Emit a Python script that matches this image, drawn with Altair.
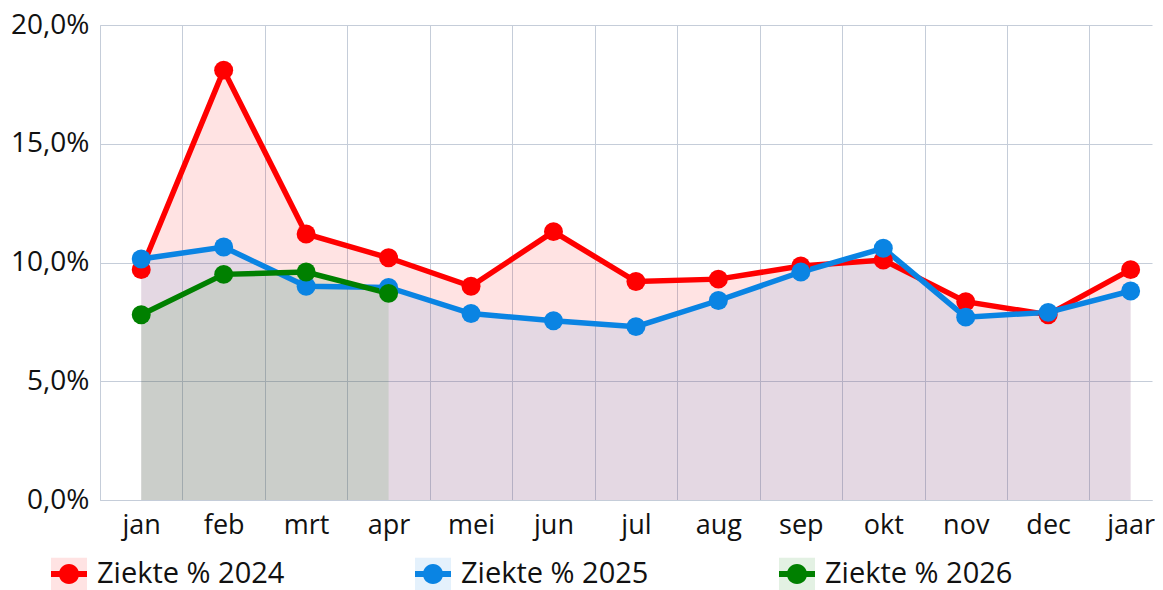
import json
import altair as alt
import pandas as pd

# ---------------- data ----------------
months = ["jan", "feb", "mrt", "apr", "mei", "jun", "jul", "aug", "sep", "okt", "nov", "dec", "jaar"]
series_names = ["Ziekte % 2024", "Ziekte % 2025", "Ziekte % 2026"]
ziekte_2024 = [9.7, 18.1, 11.2, 10.2, 9.0, 11.3, 9.2, 9.3, 9.85, 10.1, 8.35, 7.8, 9.7]
ziekte_2025 = [10.15, 10.65, 9.0, 8.95, 7.85, 7.55, 7.3, 8.4, 9.6, 10.6, 7.7, 7.9, 8.8]
ziekte_2026 = [7.8, 9.5, 9.6, 8.7]
y_ticks = [0, 5, 10, 15, 20]

line_colors = ["#ff0000", "#0a84e3", "#008000"]
fill_colors = ["rgba(255,0,0,0.11)", "rgba(10,132,227,0.11)", "rgba(0,128,0,0.11)"]

rows = []
for name, vals in zip(series_names, [ziekte_2024, ziekte_2025, ziekte_2026]):
    for i, v in enumerate(vals):
        rows.append({"series": name, "series_bg": name, "idx": i, "month": months[i], "value": v})
df = pd.DataFrame(rows)

# ---------------- layout ----------------
PLOT_W = 1052
PLOT_H = 475
BAND = 82.45
x_max = -0.5 + PLOT_W / BAND
bounds = [i - 0.5 for i in range(len(months))]
FONT = "Open Sans"
TXT = "#111111"
GRID = "#c5cdd9"

months_js = json.dumps(months)

x_enc = alt.X(
    "idx:Q",
    scale=alt.Scale(domain=[-0.5, x_max], nice=False, zero=False),
    axis=alt.Axis(
        values=bounds,
        labelExpr=f"{months_js}[round(datum.value + 0.5)]",
        labelOffset=BAND / 2,
        grid=True,
        ticks=False,
        title=None,
        labelFlush=False,
        labelOverlap=False,
        labelPadding=12,
        labelFontSize=27,
    ),
)
y_enc = alt.Y(
    "value:Q",
    stack=None,
    scale=alt.Scale(domain=[0, 20], nice=False, zero=True),
    axis=alt.Axis(
        values=y_ticks,
        labelExpr="replace(format(datum.value, '.1f'), '.', ',') + '%'",
        ticks=False,
        title=None,
        labelPadding=11,
        labelFontSize=28,
    ),
)

RECT_PATH = "M-1,-0.917L1,-0.917L1,0.917L-1,0.917Z"
LINE_DOT_PATH = ("M-1,-0.17L1,-0.17L1,0.17L-1,0.17Z"
                 "M0.56,0A0.56,0.56,0,1,1,-0.56,0A0.56,0.56,0,1,1,0.56,0Z")

legend_common = dict(
    orient="none",
    legendX=-49,
    legendY=531,
    direction="horizontal",
    title=None,
    symbolSize=1296,
    symbolStrokeWidth=0,
    labelFont=FONT,
    labelFontSize=29,
    labelLimit=0,
    labelOffset=10,
    columnPadding=130,
    padding=0,
)

base = alt.Chart(df)

areas = base.mark_area().encode(
    x=x_enc,
    y=y_enc,
    fill=alt.Fill(
        "series_bg:N",
        scale=alt.Scale(range=fill_colors),
        legend=alt.Legend(symbolType=RECT_PATH, labelOpacity=0, zindex=0, **legend_common),
    ),
)

lines = base.mark_line(strokeWidth=5.5).encode(
    x=x_enc,
    y=y_enc,
    stroke=alt.Stroke("series:N", scale=alt.Scale(range=line_colors), legend=None),
)

points = base.mark_point(filled=True, size=360, opacity=1, strokeWidth=0).encode(
    x=x_enc,
    y=y_enc,
    color=alt.Color(
        "series:N",
        scale=alt.Scale(range=line_colors),
        legend=alt.Legend(symbolType=LINE_DOT_PATH, labelColor=TXT, symbolOpacity=1, zindex=1, **legend_common),
    ),
)

chart = (
    alt.layer(areas, lines, points)
    .properties(
        width=PLOT_W,
        height=PLOT_H,
        padding={"left": 2, "top": 3, "right": 0, "bottom": 0},
    )
    .configure_view(stroke=None)
    .configure_axis(
        gridColor=GRID,
        gridWidth=1,
        domainColor=GRID,
        domainWidth=1,
        labelFont=FONT,
        labelColor=TXT,
    )
)

chart.save("out.html", embed_options={"renderer": "svg", "actions": False})
